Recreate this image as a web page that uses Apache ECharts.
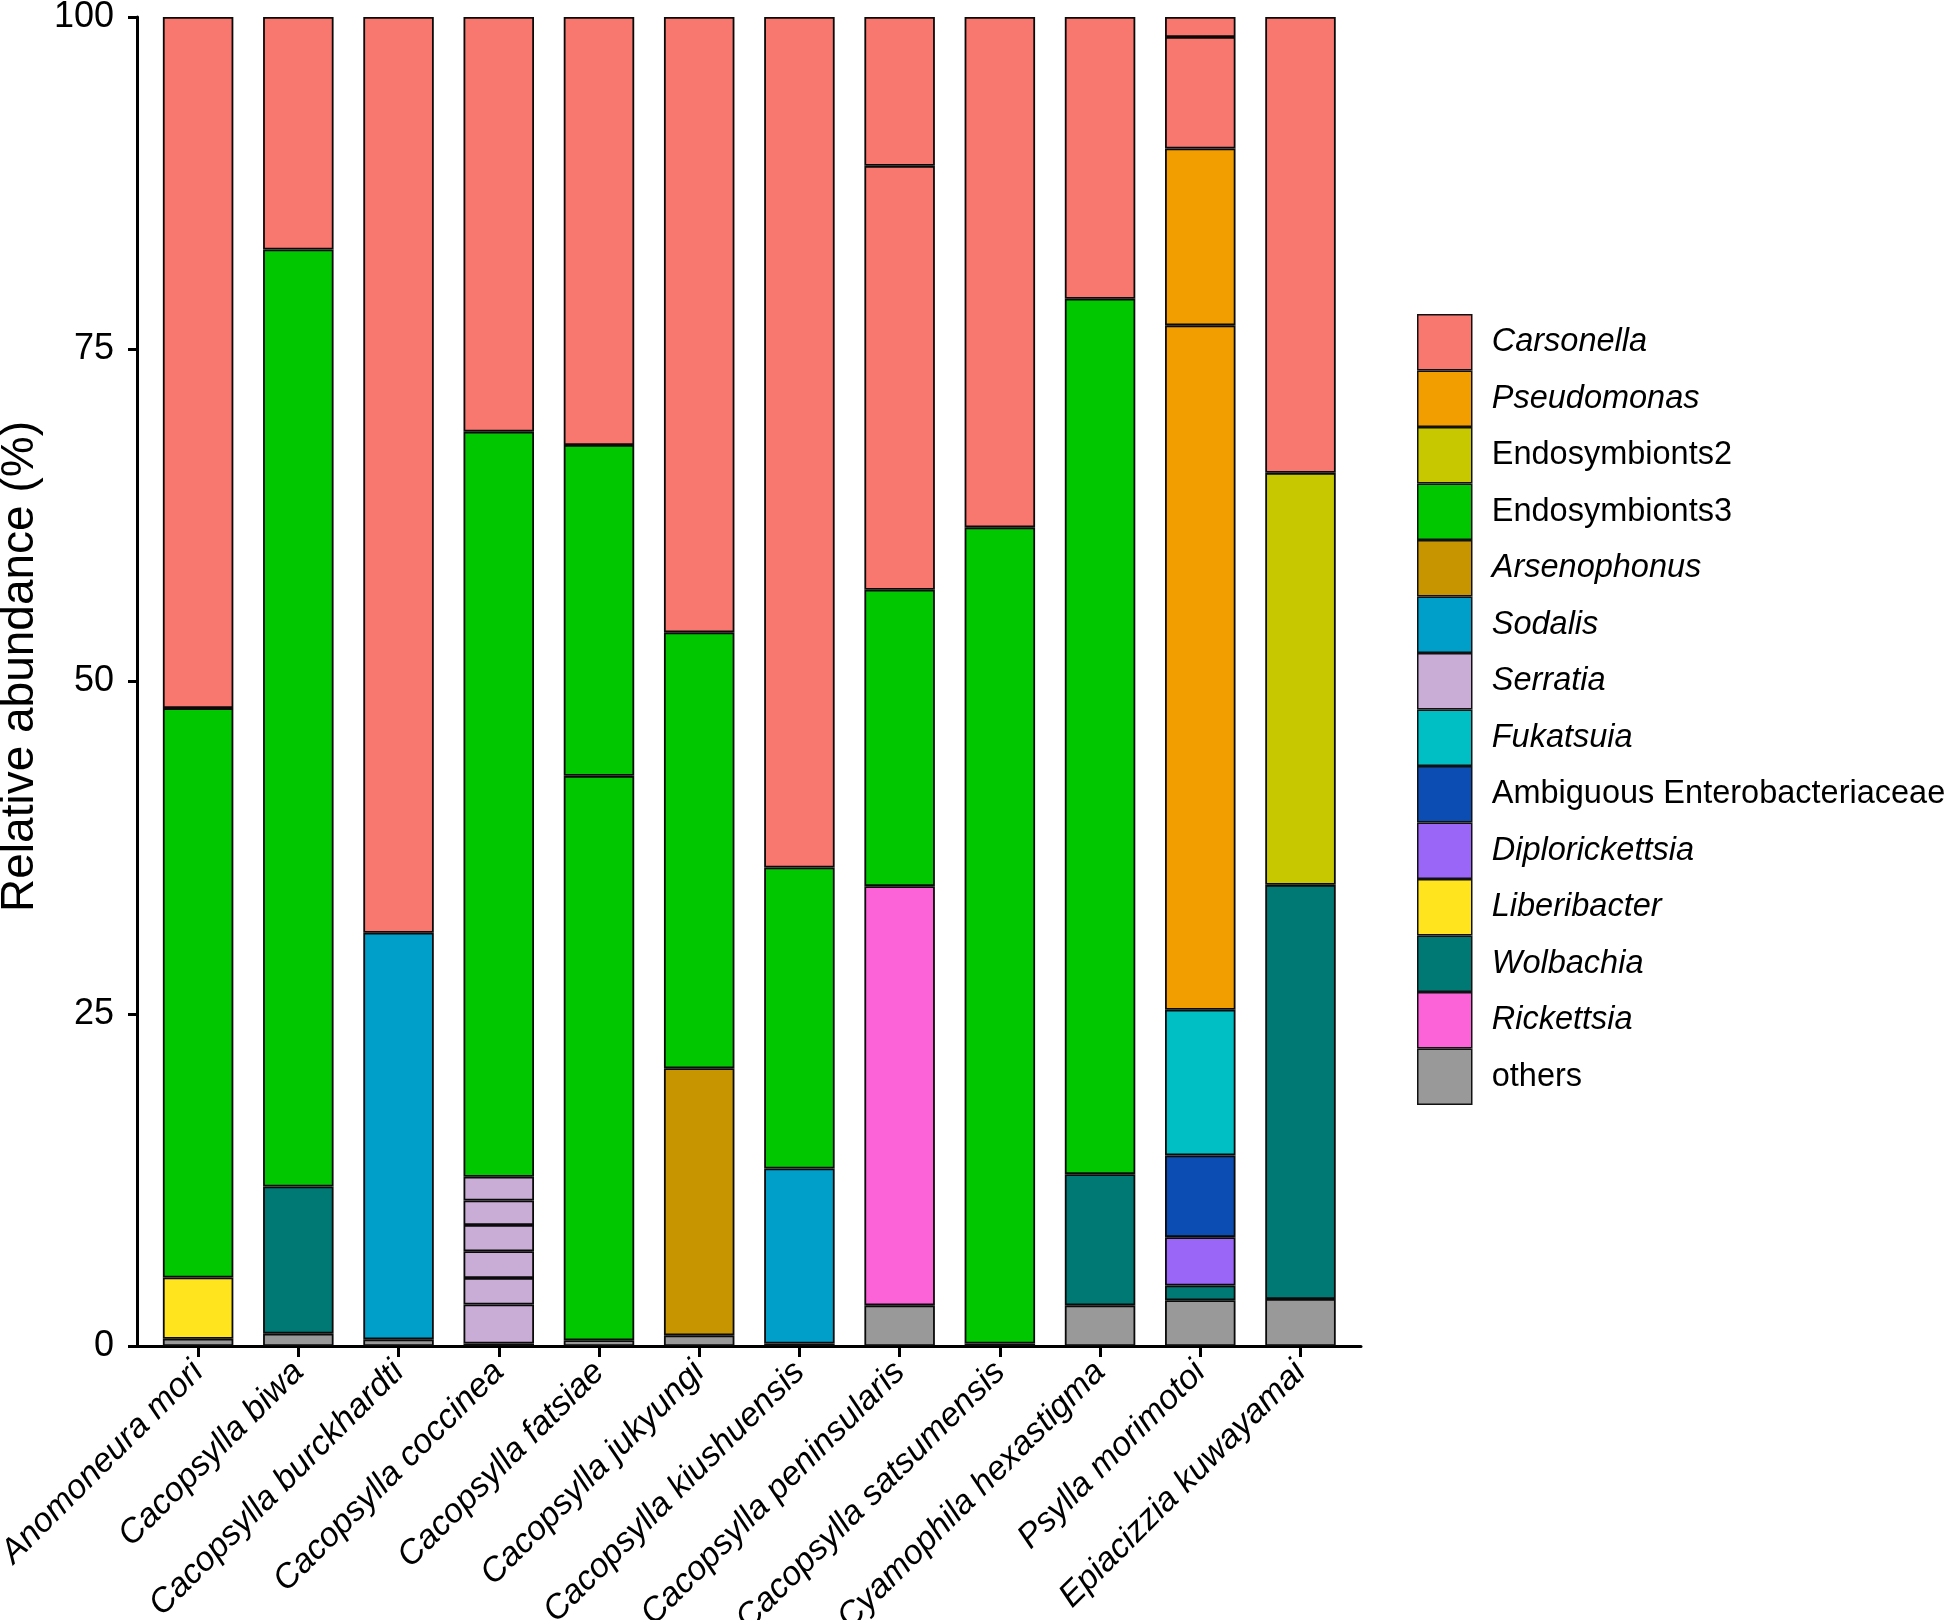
<!DOCTYPE html>
<html>
<head>
<meta charset="utf-8">
<script src="https://cdn.jsdelivr.net/npm/echarts@6/dist/echarts.min.js"></script>
<style>html,body{margin:0;padding:0;background:#fff;}#chart{width:1949px;height:1620px;}</style>
</head>
<body>
<div id="chart"></div>
<script>
// ---- data (segment heights, %, bottom to top) ----
const categories = ['Anomoneura mori','Cacopsylla biwa','Cacopsylla burckhardti','Cacopsylla coccinea','Cacopsylla fatsiae','Cacopsylla jukyungi','Cacopsylla kiushuensis','Cacopsylla peninsularis','Cacopsylla satsumensis','Cyamophila hexastigma','Psylla morimotoi','Epiacizzia kuwayamai'];
const yTicks = [0, 25, 50, 75, 100];

const others          = [0.54, 0.93, 0.5, 0.18, 0.43, 0.8, 0.18, 3.06, 0.18, 3.06, 3.44, 3.54];
const rickettsia      = [0, 0, 0, 0, 0, 0, 0, 31.54, 0, 0, 0, 0];
const wolbachia       = [0, 11.07, 0, 0, 0, 0, 0, 0, 0, 9.87, 1.11, 31.16];
const liberibacter    = [4.61, 0, 0, 0, 0, 0, 0, 0, 0, 0, 0, 0];
const diplorickettsia = [0, 0, 0, 0, 0, 0, 0, 0, 0, 0, 3.64, 0];
const ambiguous       = [0, 0, 0, 0, 0, 0, 0, 0, 0, 0, 6.15, 0];
const fukatsuia       = [0, 0, 0, 0, 0, 0, 0, 0, 0, 0, 10.96, 0];
const serratia1       = [0, 0, 0, 2.94, 0, 0, 0, 0, 0, 0, 0, 0];
const serratia2       = [0, 0, 0, 2.0, 0, 0, 0, 0, 0, 0, 0, 0];
const serratia3       = [0, 0, 0, 2.01, 0, 0, 0, 0, 0, 0, 0, 0];
const serratia4       = [0, 0, 0, 1.98, 0, 0, 0, 0, 0, 0, 0, 0];
const serratia5       = [0, 0, 0, 1.84, 0, 0, 0, 0, 0, 0, 0, 0];
const serratia6       = [0, 0, 0, 1.78, 0, 0, 0, 0, 0, 0, 0, 0];
const sodalis         = [0, 0, 30.6, 0, 0, 0, 13.18, 0, 0, 0, 0, 0];
const arsenophonus    = [0, 0, 0, 0, 0, 20.1, 0, 0, 0, 0, 0, 0];
const endo3a          = [42.85, 70.5, 0, 56.07, 42.47, 32.8, 22.64, 22.3, 61.42, 65.87, 0, 0];
const endo3b          = [0, 0, 0, 0, 24.9, 0, 0, 0, 0, 0, 0, 0];
const endo2           = [0, 0, 0, 0, 0, 0, 0, 0, 0, 0, 0, 31.0];
const pseudomonasA    = [0, 0, 0, 0, 0, 0, 0, 0, 0, 0, 51.5, 0];
const pseudomonasB    = [0, 0, 0, 0, 0, 0, 0, 0, 0, 0, 13.3, 0];
const carsonellaA     = [52.0, 17.5, 68.9, 31.2, 32.2, 46.3, 64.0, 31.9, 38.4, 21.2, 8.4, 34.3];
const carsonellaB     = [0, 0, 0, 0, 0, 0, 0, 11.2, 0, 0, 1.5, 0];

const legendOrder = ['Carsonella','Pseudomonas','Endosymbionts2','Endosymbionts3','Arsenophonus','Sodalis','Serratia','Fukatsuia','Ambiguous Enterobacteriaceae','Diplorickettsia','Liberibacter','Wolbachia','Rickettsia','others'];
const uprightNames = ['Endosymbionts2','Endosymbionts3','Ambiguous Enterobacteriaceae','others'];

const colors = {
  'Carsonella':'#F8776F','Pseudomonas':'#F29D00','Endosymbionts2':'#C7C800','Endosymbionts3':'#00C700',
  'Arsenophonus':'#C69500','Sodalis':'#009FCA','Serratia':'#C9ADD7','Fukatsuia':'#00BFC4',
  'Ambiguous Enterobacteriaceae':'#0B4DB2','Diplorickettsia':'#9966F8','Liberibacter':'#FFE41E',
  'Wolbachia':'#007874','Rickettsia':'#FD63D8','others':'#999999'
};

// stacking order, bottom to top
const stackList = [
  ['others', others], ['Rickettsia', rickettsia], ['Wolbachia', wolbachia], ['Liberibacter', liberibacter],
  ['Diplorickettsia', diplorickettsia], ['Ambiguous Enterobacteriaceae', ambiguous], ['Fukatsuia', fukatsuia],
  ['Serratia', serratia1], ['Serratia', serratia2], ['Serratia', serratia3], ['Serratia', serratia4],
  ['Serratia', serratia5], ['Serratia', serratia6], ['Sodalis', sodalis], ['Arsenophonus', arsenophonus],
  ['Endosymbionts3', endo3a], ['Endosymbionts3', endo3b], ['Endosymbionts2', endo2],
  ['Pseudomonas', pseudomonasA], ['Pseudomonas', pseudomonasB], ['Carsonella', carsonellaA], ['Carsonella', carsonellaB]
];

const FONT = '"Liberation Sans", Arial, Helvetica, sans-serif';
const chart = echarts.init(document.getElementById('chart'));

const series = stackList.map(([name, arr]) => ({
  type: 'bar', name: name, stack: 'total', xAxisIndex: 1, yAxisIndex: 1,
  barWidth: 70.5,
  data: arr.map(v => v > 0 ? v : '-'),
  itemStyle: { color: colors[name], borderColor: '#0a0a0a', borderWidth: 1.8 },
  emphasis: { disabled: true }
}));

chart.setOption({
  animation: false,
  textStyle: { fontFamily: FONT },
  grid: [
    { left: 137, top: 17, width: 1224, height: 1329, containLabel: false, outerBoundsMode: 'none' },
    { left: 148, top: 17, width: 1202.6, height: 1329, containLabel: false, outerBoundsMode: 'none' }
  ],
  xAxis: [
    { type: 'category', gridIndex: 0, data: categories, boundaryGap: true,
      axisLine: { show: true, lineStyle: { color: '#000', width: 3 } },
      axisTick: { show: false }, axisLabel: { show: false }, splitLine: { show: false } },
    { type: 'category', gridIndex: 1, data: categories,
      axisLine: { show: false },
      axisTick: { show: true, alignWithLabel: true, length: 11, lineStyle: { color: '#000', width: 3 } },
      axisLabel: { interval: 0, rotate: 45, margin: 21, fontSize: 34, fontStyle: 'italic', color: '#000', fontFamily: FONT },
      splitLine: { show: false } }
  ],
  yAxis: [
    { type: 'value', gridIndex: 0, min: yTicks[0], max: yTicks[yTicks.length - 1], interval: 25,
      name: 'Relative abundance (%)', nameLocation: 'middle', nameGap: 92,
      nameTextStyle: { fontSize: 46, color: '#000', fontFamily: FONT, padding: [0, 0, 0, 30] },
      axisLine: { show: true, lineStyle: { color: '#000', width: 3 } },
      axisTick: { show: true, length: 9, lineStyle: { color: '#000', width: 3 } },
      axisLabel: { fontSize: 36, color: '#000', margin: 23, fontFamily: FONT },
      splitLine: { show: false } },
    { type: 'value', gridIndex: 1, min: 0, max: 100, show: false }
  ],
  legend: {
    orient: 'vertical', left: 1412, top: 309,
    itemWidth: 54, itemHeight: 55, itemGap: 0, icon: 'rect',
    data: legendOrder,
    itemStyle: { borderColor: '#111', borderWidth: 1.5 },
    selectedMode: false,
    formatter: n => uprightNames.includes(n) ? '{n|' + n + '}' : '{i|' + n + '}',
    textStyle: {
      fontSize: 32.5, color: '#000', fontFamily: FONT, lineHeight: 36,
      rich: {
        i: { fontSize: 32.5, lineHeight: 36, fontStyle: 'italic', color: '#000', fontFamily: FONT, padding: [0, 0, 0, 15] },
        n: { fontSize: 32.5, lineHeight: 36, color: '#000', fontFamily: FONT, padding: [0, 0, 0, 15] }
      }
    }
  },
  series: series
});
</script>
</body>
</html>
